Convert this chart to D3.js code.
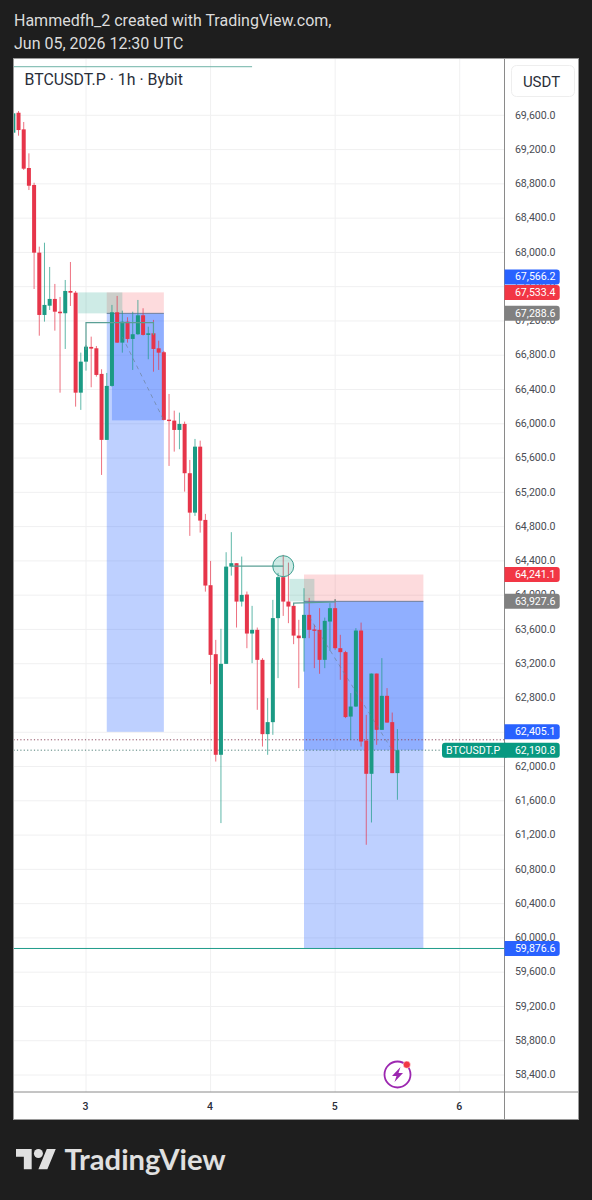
<!DOCTYPE html>
<html><head><meta charset="utf-8">
<script src="https://cdn.jsdelivr.net/npm/d3@7"></script>
<style>html,body{margin:0;padding:0;background:#1e1e1e}svg{display:block}</style></head>
<body><div id="c"></div>
<script>
const headerLines = ["Hammedfh_2 created with TradingView.com,", "Jun 05, 2026 12:30 UTC"];
const chartTitle = "BTCUSDT.P · 1h · Bybit";
const currency = "USDT";
const symbol = "BTCUSDT.P";
const firstHour = -14;
const opens = [69397,69630,69436,68985,68787,67997,67270,67378,67457,67308,67290,67550,67530,66363,66725,66897,66881,66582,65812,66442,67301,66947,67192,66990,67045,67266,67037,67056,66881,66835,66048,66037,65928,65998,65423,64963,65733,64878,64116,63311,62137,63198,64333,64373,63925,64007,63552,63595,63245,62378,62518,63732,64210,63925,63875,63528,63498,63770,63600,63595,63245,63692,63848,63381,63335,62583,62700,63587,62303,61915,63085,62428,62825,62518,61923];
const highs = [69743,69650,69522,69156,68813,68067,68113,67830,67632,67480,67678,67888,67550,66830,66920,67017,66908,66636,66593,67387,67492,67320,67243,67308,67445,67348,67133,67212,66970,66850,66348,66153,66130,66025,65578,65823,65803,64948,64400,63478,63607,64501,64735,64373,64450,64042,63875,63622,63265,62798,63945,64260,64470,64380,63910,63712,64081,63968,63653,63848,63738,63906,63953,63537,63350,62857,63615,63680,62603,63085,63085,63265,62915,62630,62437];
const lows = [69390,69362,68962,68728,67573,67028,67192,67328,67087,66363,66873,67375,66200,66162,66620,66426,66550,65403,65812,66433,66943,66830,66947,66628,67037,67030,66753,66608,66628,66040,65508,65675,65703,65208,64692,64925,64730,64041,62961,62058,61340,63198,64228,63622,63867,63381,63206,62662,62233,62137,62370,63032,63758,63673,63428,62915,63108,63498,63148,63082,63148,63350,63362,63012,62565,62312,62695,62233,61087,61347,62253,62428,62510,61923,61612];
const closes = [69623,69428,68977,68778,67997,67270,67387,67457,67308,67290,67550,67530,66363,66725,66900,66877,66570,65812,66442,67301,66947,67192,66990,67045,67266,67037,67056,66873,66830,66045,66033,65928,65998,65423,64963,65733,64870,64112,63303,62137,63198,64333,64373,63925,64003,63552,63595,63245,62378,62518,63732,64210,63925,63867,63528,63498,63770,63595,63587,63245,63700,63848,63381,63335,62577,62700,63587,62292,61915,63085,62428,62825,62513,61923,62190.8];

const priceTicks = d3.range(58400, 69601, 400);
const dayLabels = ["3", "4", "5", "6"];
const dayHours = [0, 24, 48, 72];

// position tools, in data units: hour start/end, prices
const shortBoxHours = [[4, 15], [42, 65]];
const shortEntry = [67288.6, 63927.6];
const shortStop = [67533.4, 64241.1];
const shortTarget = [62405.1, 59876.6];
const shortProfitStart = [5, 42];
const shortProfitEnd = [66040, 62190.8];
const greenBoxHours = [[-1.5, 7], [39.2, 44]];
const greenBoxPrices = [[67533.4, 67288.6], [64190, 63927.6]];
const tealPaths = [
  [[0,66862],[0,67180],[13,67180],[13,67037]],
  [[40,63875],[40,63906],[48,63922],[48,63953]],
  [[28,64338],[38,64338]],
  [[-14,70167],[32,70167]]
];
const dashedPaths = [
  [[7,67013],[15,66040]],
  [[43,63747],[59,62190.8]]
];
const circleAt = [38, 64338];
const targetLine = 59876.6;
const dottedPrices = [62312, 62190.8];

const priceLabels = [
  {v:67566.2, c:"#2962ff"},
  {v:67533.4, c:"#f23645"},
  {v:67288.6, c:"#808080"},
  {v:64241.1, c:"#f23645"},
  {v:63927.6, c:"#808080"},
  {v:62405.1, c:"#2962ff"},
  {v:62190.8, c:"#089981"},
  {v:59876.6, c:"#2962ff"}
];

const UP = "#1b9a84", DOWN = "#e6354a";
const W = 592, H = 1200;
const L = 13.5, R = 578.5, T = 58.5, B = 1119.5, SEP = 504.5, AX = 1092;

const x = d3.scaleLinear().domain([0, 72]).range([86, 459.7]);
const y = d3.scaleLinear().domain([58400, 69600]).range([1075, 115.3]);
const fmt = d3.format(",.1f");

const svg = d3.select("#c").append("svg").attr("width", W).attr("height", H);
svg.append("rect").attr("width", W).attr("height", H).attr("fill", "#1e1e1e");

svg.selectAll("text.hd").data(headerLines).join("text").attr("class","hd")
  .attr("x", 14).attr("y", (d,i)=>25.5+i*23)
  .attr("font-family","Roboto").attr("font-size",16).attr("fill","#dcdcdc").text(d=>d);

svg.append("rect").attr("x",L).attr("y",T).attr("width",R-L).attr("height",B-T).attr("fill","#fff");

const defs = svg.append("defs");
defs.append("clipPath").attr("id","pane").append("rect").attr("x",L).attr("y",T).attr("width",SEP-L).attr("height",AX-T);
const pane = svg.append("g").attr("clip-path","url(#pane)");

// grid
pane.selectAll("line.gy").data(priceTicks).join("line").attr("class","gy")
  .attr("x1",L).attr("x2",SEP).attr("y1",d=>y(d)).attr("y2",d=>y(d)).attr("stroke","#f0f0f1").attr("stroke-width",1);
pane.selectAll("line.gx").data(dayHours).join("line").attr("class","gx")
  .attr("x1",d=>x(d)).attr("x2",d=>x(d)).attr("y1",T).attr("y2",AX).attr("stroke","#f0f0f1").attr("stroke-width",1);

function box(h0,h1,p0,p1,fill){
  pane.append("rect").attr("x",x(h0)).attr("width",x(h1)-x(h0))
    .attr("y",y(Math.max(p0,p1))).attr("height",Math.abs(y(p0)-y(p1))).attr("fill",fill);
}
shortBoxHours.forEach((h,i)=>{
  box(h[0],h[1],shortEntry[i],shortStop[i],"rgba(242,54,69,0.18)");
  box(h[0],h[1],shortEntry[i],shortTarget[i],"rgba(41,98,255,0.3)");
  box(shortProfitStart[i],h[1],shortEntry[i],shortProfitEnd[i],"rgba(41,98,255,0.3)");
  pane.append("line").attr("x1",x(h[0])).attr("x2",x(h[1])).attr("y1",y(shortEntry[i])).attr("y2",y(shortEntry[i]))
    .attr("stroke","#6f7f9c").attr("stroke-width",1);
});
greenBoxHours.forEach((h,i)=>box(h[0],h[1],greenBoxPrices[i][0],greenBoxPrices[i][1],"rgba(8,153,129,0.2)"));

const line = d3.line().x(d=>x(d[0])).y(d=>y(d[1]));

// horizontal levels
pane.append("line").attr("x1",L).attr("x2",SEP).attr("y1",y(targetLine)).attr("y2",y(targetLine)).attr("stroke","#1f9c8a").attr("stroke-width",1);
dottedPrices.forEach((p,i)=>pane.append("line").attr("x1",L).attr("x2",SEP).attr("y1",y(p)).attr("y2",y(p))
  .attr("stroke",i?"#4f7f78":"#8d4a60").attr("stroke-width",1).attr("stroke-dasharray","1.2 2.2"));

// candles
const hours = opens.map((_,i)=>firstHour+i);
const cw = 4;
pane.selectAll("line.wick").data(hours).join("line").attr("class","wick")
  .attr("x1",(d)=>x(d)).attr("x2",(d)=>x(d))
  .attr("y1",(d,i)=>y(highs[i])).attr("y2",(d,i)=>y(lows[i]))
  .attr("stroke",(d,i)=>closes[i]>=opens[i]?UP:DOWN).attr("stroke-opacity",0.7).attr("stroke-width",1);
pane.selectAll("rect.body").data(hours).join("rect").attr("class","body")
  .attr("x",d=>x(d)-cw/2).attr("width",cw)
  .attr("y",(d,i)=>y(Math.max(opens[i],closes[i])))
  .attr("height",(d,i)=>Math.max(1.4,Math.abs(y(opens[i])-y(closes[i]))))
  .attr("fill",(d,i)=>closes[i]>=opens[i]?UP:DOWN);

// drawings
tealPaths.forEach((p,i)=>pane.append("path").attr("d",line(p)).attr("fill","none")
  .attr("stroke",i===3?"#6fb3a8":"#5a9f95").attr("stroke-width",i===3?1:1.2));
dashedPaths.forEach(p=>pane.append("path").attr("d",line(p)).attr("fill","none")
  .attr("stroke","#6c7f95").attr("stroke-opacity",0.65).attr("stroke-width",1).attr("stroke-dasharray","4 4"));
pane.append("circle").attr("cx",x(circleAt[0])).attr("cy",y(circleAt[1])).attr("r",10.5)
  .attr("fill","rgba(8,153,129,0.2)").attr("stroke","#3a9c8d").attr("stroke-width",1);

// frame
const fr = svg.append("g").attr("stroke","#8a8a8a").attr("stroke-width",1);
fr.append("line").attr("x1",SEP).attr("x2",SEP).attr("y1",T).attr("y2",B);
fr.append("line").attr("x1",L).attr("x2",R).attr("y1",AX).attr("y2",AX);
fr.append("rect").attr("x",L).attr("y",T).attr("width",R-L).attr("height",B-T).attr("fill","none").attr("stroke","#9a9a9a");

// title and currency
svg.append("text").attr("x",24.5).attr("y",84.5).attr("font-family","Roboto").attr("font-size",15.9).attr("fill","#2a2e39").text(chartTitle);
svg.append("rect").attr("x",511.5).attr("y",65.5).attr("width",63).attr("height",31).attr("rx",5).attr("fill","#fff").attr("stroke","#eeeeee");
svg.append("text").attr("x",541.5).attr("y",86.5).attr("text-anchor","middle").attr("font-family","Roboto").attr("font-size",15).attr("fill","#2a2e39").text(currency);

// axes
svg.selectAll("text.py").data(priceTicks).join("text").attr("class","py")
  .attr("x",555.5).attr("y",d=>y(d)+3.2).attr("text-anchor","end")
  .attr("font-family","Roboto").attr("font-size",10.6).attr("fill","#4a4d55").text(d=>fmt(d));
svg.selectAll("text.dx").data(dayHours).join("text").attr("class","dx")
  .attr("x",d=>x(d)-0.5).attr("y",1110).attr("text-anchor","middle")
  .attr("font-family","Roboto").attr("font-weight",500).attr("font-size",10.5).attr("fill","#2a2e39").text((d,i)=>dayLabels[i]);

// price labels: pushed apart when they would overlap
const LH = 15;
const placed = priceLabels.map(d=>({...d, py:y(d.v)}));
for (let i=placed.length-2;i>=0;i--){
  if (placed[i+1].py-placed[i].py<LH+0.5) placed[i].py = placed[i+1].py-LH-0.5;
}
const sym = svg.append("g");
sym.append("rect").attr("x",442).attr("y",y(62190.8)-7.5).attr("width",66).attr("height",LH).attr("rx",3).attr("fill","#089981");
sym.append("text").attr("x",446).attr("y",y(62190.8)+3.6).attr("font-family","Roboto").attr("font-size",10.6).attr("fill","#fff").text(symbol);
const pl = svg.selectAll("g.pl").data(placed).join("g").attr("class","pl");
pl.append("path").attr("d",d=>{
  const a=504.5,b=559.7,t=d.py-LH/2,m=d.py+LH/2,r=3;
  return `M${a},${t}H${b-r}Q${b},${t} ${b},${t+r}V${m-r}Q${b},${m} ${b-r},${m}H${a}Z`;
}).attr("fill",d=>d.c);
pl.append("text").attr("x",555.5).attr("y",d=>d.py+3.6).attr("text-anchor","end")
  .attr("font-family","Roboto").attr("font-size",10.6).attr("fill","#fff").text(d=>fmt(d.v));

// lightning badge
const ic = svg.append("g").attr("transform","translate(397.5,1074.5)");
ic.append("circle").attr("r",13).attr("fill","#fff").attr("stroke","#9c27b0").attr("stroke-width",1.8);
ic.append("path").attr("d","M3,-7.5 L-5.5,1.5 L-1,1.5 L-3,7.5 L5.5,-1.5 L1,-1.5 Z").attr("fill","#9c27b0");
ic.append("circle").attr("cx",9.3).attr("cy",-9.8).attr("r",3.6).attr("fill","#f23645").attr("stroke","#fff").attr("stroke-width",0.5);

// logo
const lg = svg.append("g").attr("transform","translate(16,1144.5) scale(1.12)").attr("fill","#e0e0e0");
lg.append("path").attr("d","M14 22H7V11H0V4h14v18zM28 22h-8l7.5-18h8L28 22z");
lg.append("circle").attr("cx",20).attr("cy",8).attr("r",4);
svg.append("text").attr("x",64.5).attr("y",1170).attr("font-family","Lato").attr("font-weight",700).attr("font-size",29.2).attr("fill","#e0e0e0").text("TradingView");
</script></body></html>
